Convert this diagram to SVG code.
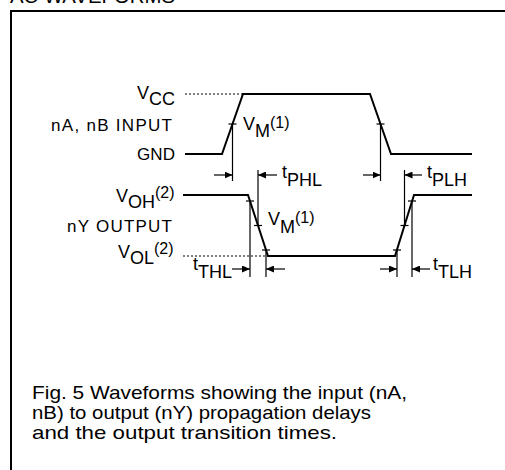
<svg xmlns="http://www.w3.org/2000/svg" width="505" height="470" viewBox="0 0 505 470">
<style>
text{font-family:"Liberation Sans",Arial,Helvetica,sans-serif;fill:#000}
.lbl{font-size:17px}
.sym{font-size:18px}
.sup{font-size:16px}
.cap{font-size:19px}
.wave{fill:none;stroke:#000;stroke-width:2;stroke-linejoin:miter}
.dot{fill:none;stroke:#000;stroke-width:1.2;stroke-dasharray:2 2}
.tick{stroke:#000;stroke-width:1.2}
.dim{stroke:#000;stroke-width:1.2;fill:none}
.arr{stroke:#000;stroke-width:1.2;fill:none;marker-end:url(#ah)}
</style>
<defs>
<marker id="ah" markerUnits="userSpaceOnUse" markerWidth="9" markerHeight="7" refX="8" refY="3.5" orient="auto">
<path d="M0,0 L8,3.5 L0,7 z" fill="#000"/>
</marker>
</defs>
<rect width="505" height="470" fill="#fff"/>
<text id="title" x="10" y="3" font-size="20" textLength="165" lengthAdjust="spacingAndGlyphs">AC WAVEFORMS</text>
<g id="frame"><path d="M11,470 L11,11 L505,11" fill="none" stroke="#000" stroke-width="2"/></g>

<g id="input-waveform">
<path class="dot" d="M185,94 L243,94"/>
<path class="wave" d="M185,154 L222,154 L243,94 L370,94 L391,154 L472,154"/>
<line class="tick" x1="228.5" y1="124" x2="236.5" y2="124"/>
<line class="tick" x1="376.5" y1="124" x2="384.5" y2="124"/>
</g>

<g id="output-waveform">
<path class="dot" d="M183,256 L268,256"/>
<path class="wave" d="M183,195 L248,195 L268,256 L395,256 L414,195 L472,195"/>
<line class="tick" x1="246" y1="201" x2="254" y2="201"/>
<line class="tick" x1="254" y1="225.5" x2="262" y2="225.5"/>
<line class="tick" x1="262" y1="250" x2="270" y2="250"/>
<line class="tick" x1="393" y1="250" x2="401" y2="250"/>
<line class="tick" x1="400.5" y1="225.5" x2="408.5" y2="225.5"/>
<line class="tick" x1="408" y1="201" x2="416" y2="201"/>
</g>

<g id="connectors">
<line class="dim" x1="232.5" y1="124" x2="232.5" y2="181"/>
<line class="dim" x1="380.5" y1="124" x2="380.5" y2="181"/>
<line class="dim" x1="258" y1="170" x2="258" y2="226"/>
<line class="dim" x1="404.5" y1="170" x2="404.5" y2="226"/>
<line class="dim" x1="250" y1="201" x2="250" y2="277"/>
<line class="dim" x1="266" y1="250" x2="266" y2="277"/>
<line class="dim" x1="397" y1="250" x2="397" y2="277"/>
<line class="dim" x1="412" y1="201" x2="412" y2="277"/>
<line class="arr" x1="214" y1="175" x2="232.5" y2="175"/>
<line class="arr" x1="277" y1="175" x2="258" y2="175"/>
<line class="arr" x1="363" y1="175" x2="380.5" y2="175"/>
<line class="arr" x1="422" y1="175" x2="404.5" y2="175"/>
<line class="arr" x1="232" y1="269" x2="250" y2="269"/>
<line class="arr" x1="285" y1="269" x2="266" y2="269"/>
<line class="arr" x1="380" y1="269" x2="397" y2="269"/>
<line class="arr" x1="430" y1="269" x2="412" y2="269"/>
</g>

<g id="labels">
<text class="sym" x="137" y="99">V<tspan dy="6">CC</tspan></text>
<text class="lbl" x="51" y="131" textLength="121" lengthAdjust="spacing">nA, nB INPUT</text>
<text class="lbl" x="137" y="160" textLength="38" lengthAdjust="spacing">GND</text>
<text class="sym" x="116" y="202">V<tspan dy="6">OH</tspan><tspan class="sup" dy="-10">(2)</tspan></text>
<text class="lbl" x="67" y="232" textLength="105" lengthAdjust="spacing">nY OUTPUT</text>
<text class="sym" x="118" y="258">V<tspan dy="6">OL</tspan><tspan class="sup" dy="-10">(2)</tspan></text>
<text class="sym" x="243" y="130">V<tspan dy="7">M</tspan><tspan class="sup" dy="-9">(1)</tspan></text>
<text class="sym" x="268" y="225">V<tspan dy="8">M</tspan><tspan class="sup" dy="-10">(1)</tspan></text>
<text class="sym" x="282" y="178">t<tspan dy="8">PHL</tspan></text>
<text class="sym" x="427" y="178">t<tspan dy="8">PLH</tspan></text>
<text class="sym" x="193" y="270">t<tspan dy="8">THL</tspan></text>
<text class="sym" x="433" y="270">t<tspan dy="8">TLH</tspan></text>
</g>

<g id="caption">
<text class="cap" x="32" y="399" textLength="375" lengthAdjust="spacingAndGlyphs">Fig. 5 Waveforms showing the input (nA,</text>
<text class="cap" x="32" y="419" textLength="339" lengthAdjust="spacingAndGlyphs">nB) to output (nY) propagation delays</text>
<text class="cap" x="32" y="439" textLength="305" lengthAdjust="spacingAndGlyphs">and the output transition times.</text>
</g>
</svg>
